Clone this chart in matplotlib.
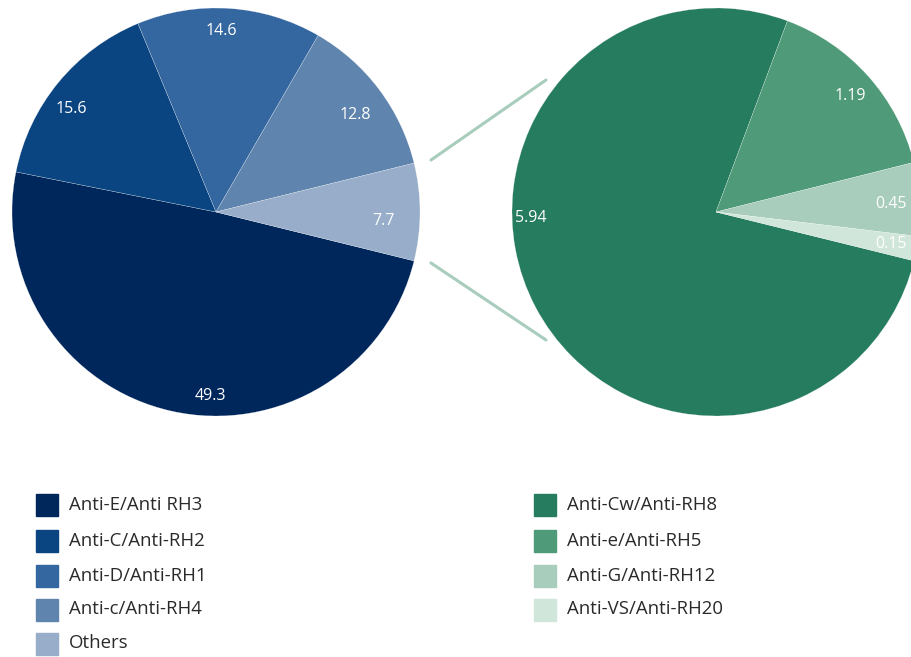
import matplotlib
matplotlib.use("Agg")
import matplotlib.pyplot as plt
from matplotlib.patches import Rectangle
import numpy as np

plt.rcParams['font.family'] = ['Open Sans', 'DejaVu Sans']

# left pie: antibody shares (%)
left_names = ['Anti-E/Anti RH3', 'Anti-C/Anti-RH2', 'Anti-D/Anti-RH1', 'Anti-c/Anti-RH4', 'Others']
left_values = [49.3, 15.6, 14.6, 12.8, 7.7]
left_colors = ['#00275c', '#0b4581', '#34669f', '#5f84ad', '#97adc9']

# right pie: breakdown of "Others"
right_names = ['Anti-Cw/Anti-RH8', 'Anti-e/Anti-RH5', 'Anti-G/Anti-RH12', 'Anti-VS/Anti-RH20']
right_values = [5.94, 1.19, 0.45, 0.15]
right_colors = ['#267c5e', '#4f9a78', '#a8cdbc', '#d0e6da']

W, H = 912, 657
fig = plt.figure(figsize=(W / 100, H / 100), dpi=100)
ax = fig.add_axes([0, 0, 1, 1])

R = 204
start = -left_values[-1] / 2 * 3.6   # "Others" centred on the right side


def draw_pie(cx, cy, values, colors, shifts, dists):
    wedges, _ = ax.pie(values, colors=colors, center=(cx, cy), radius=R,
                       startangle=start, counterclock=False,
                       wedgeprops=dict(edgecolor='white', linewidth=0.15))
    for w, v, shift, d in zip(wedges, values, shifts, dists):
        mid = np.deg2rad((w.theta1 + w.theta2) / 2 + shift)
        ax.text(cx + d * R * np.cos(mid), cy + d * R * np.sin(mid), str(v),
                color='white', fontsize=11.5, ha='center', va='center')


draw_pie(216, H - 212, left_values, left_colors,
         [11, 4, 2, -2, -3], [0.9, 0.87, 0.89, 0.83, 0.82])
draw_pie(716, H - 212, right_values, right_colors,
         [-26, -1, -1, 0], [0.91, 0.87, 0.86, 0.87])

# connector lines
ax.plot([431, 546], [H - 160, H - 80], color='#a8cdbc', lw=2.2, solid_capstyle='round')
ax.plot([431, 546], [H - 263, H - 340], color='#a8cdbc', lw=2.2, solid_capstyle='round')

# legends
row_y = [505, 540.5, 576, 609.5, 643.5]
for names, colors, x0 in [(left_names, left_colors, 36), (right_names, right_colors, 534)]:
    for name, c, y in zip(names, colors, row_y):
        ax.add_patch(Rectangle((x0, H - y - 11), 22, 22, color=c))
        ax.text(x0 + 33, H - y, name, fontsize=13.4, color='#2a2a2a', va='center', ha='left')

ax.set_xlim(0, W)
ax.set_ylim(0, H)
ax.set_aspect('equal')
ax.axis('off')

fig.savefig('out.png', dpi=100)
